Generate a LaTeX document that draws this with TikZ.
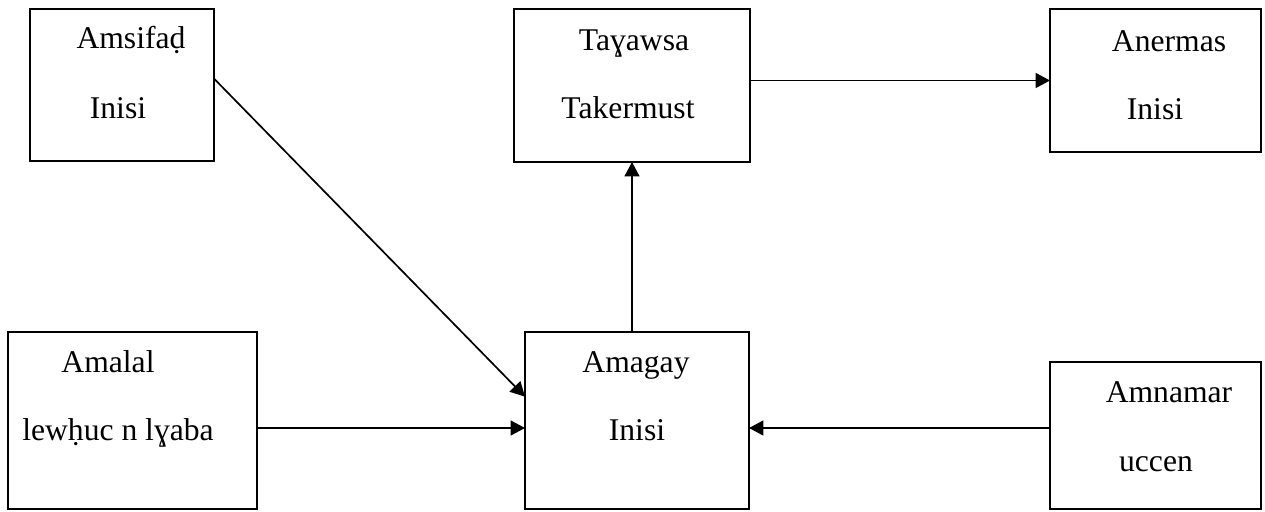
\documentclass[tikz,border=0pt]{standalone}
\usepackage{fontspec}
\setmainfont{Liberation Serif}
\usepackage{tikz}
\usetikzlibrary{arrows.meta, positioning}

\tikzset{
	box/.style={draw, line width=0.038cm, inner sep=0pt, outer sep=0pt},
	lbl/.style={anchor=base, inner sep=0pt, font=\fontsize{18}{21}\selectfont}
}

\begin{document}
\begin{tikzpicture}[x=0.02cm, y=-0.02cm,
				>={Triangle[length=0.29cm, width=0.3cm]},
				line width=0.034cm]
				\useasboundingbox (0,0) rectangle (1265,511);
				% boxes
				\node[box, minimum width=3.68cm, minimum height=3.04cm] (amsifad) at (122,85) {};
				\node[box, minimum width=4.72cm, minimum height=3.06cm] (tayawsa) at (632,85.5) {};
				\node[box, minimum width=4.22cm, minimum height=2.86cm] (anermas) at (1155.5,80.5) {};
				\node[box, minimum width=4.98cm, minimum height=3.54cm] (amalal) at (132.5,420.5) {};
				\node[box, minimum width=4.48cm, minimum height=3.54cm] (amagay) at (637,420.5) {};
				\node[box, minimum width=4.22cm, minimum height=2.94cm] (amnamar) at (1155.5,435.5) {};
				% texts
				\node[lbl] (amsifad-a) at (131,48) {Amsifaḍ};
				\node[lbl] (amsifad-b) at (118,118) {Inisi};
				\node[lbl] (tayawsa-a) at (634,50) {Taɣawsa};
				\node[lbl] (tayawsa-b) at (628,118) {Takermust};
				\node[lbl] (anermas-a) at (1169,51) {Anermas};
				\node[lbl] (anermas-b) at (1155,119) {Inisi};
				\node[lbl] (amalal-a) at (108,372) {Amalal};
				\node[lbl] (amalal-b) at (118,440) {lewḥuc n lɣaba};
				\node[lbl] (amagay-a) at (636,372) {Amagay};
				\node[lbl] (amagay-b) at (637,440) {Inisi};
				\node[lbl] (amnamar-a) at (1169,402) {Amnamar};
				\node[lbl] (amnamar-b) at (1156,471) {uccen};
				% connectors
				\draw[->] (amsifad.4) -- (amagay.168);
				\draw[->] (tayawsa.east |- anermas.west) -- (anermas.west);
				\draw[->] (tayawsa.south |- amagay.north) -- (tayawsa.south);
				\draw[->] ([yshift=-0.15cm]amalal.east) -- ([yshift=-0.15cm]amagay.west);
				\draw[->] ([yshift=0.15cm]amnamar.west) -- ([yshift=-0.15cm]amagay.east);
			\end{tikzpicture}
\end{document}
